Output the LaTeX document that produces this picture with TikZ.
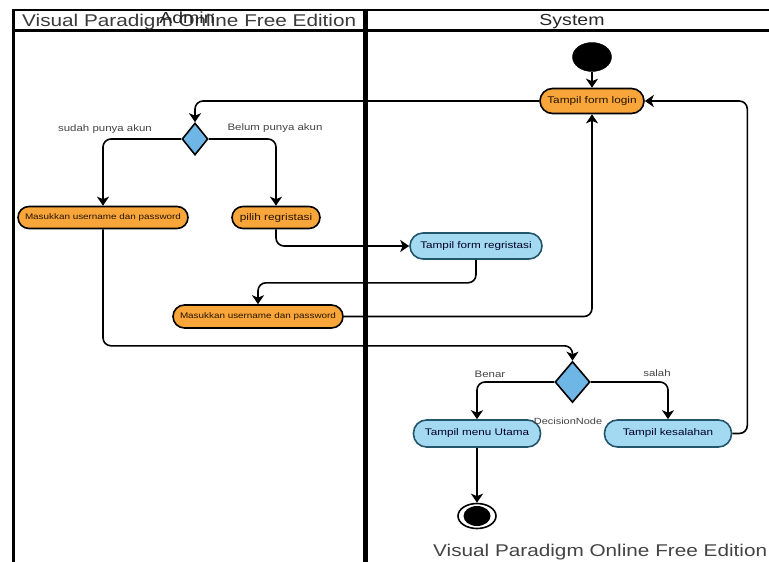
\documentclass[tikz,border=0pt]{standalone}
\usepackage{fontspec}
\setmainfont{Liberation Sans}[FakeStretch=1.22]
\usetikzlibrary{shapes.geometric,arrows.meta}
\definecolor{orangefill}{HTML}{F8A53A}
\definecolor{bluefill}{HTML}{A3DAF2}
\definecolor{blueedge}{HTML}{24566B}
\definecolor{diafill}{HTML}{6DB6E6}
\definecolor{txtgray}{HTML}{3A3A3A}
\definecolor{lblgray}{HTML}{444444}
\begin{document}
\begin{tikzpicture}[x=1pt,y=-1pt,
  orangeact/.style={draw=black, fill=orangefill, line width=1.6pt, rectangle,
     rounded corners=#1, inner sep=0pt, text=black!85!orange},
  blueact/.style={draw=blueedge, fill=bluefill, line width=1.6pt, rectangle,
     rounded corners=13pt, minimum height=27pt, inner sep=0pt, text=black!85!blue,
     font=\fontsize{9.6}{11}\selectfont},
  smalltxt/.style={font=\fontsize{8.1}{9}\selectfont},
  midtxt/.style={font=\fontsize{9.7}{11}\selectfont},
  decision/.style={draw=black, fill=diafill, line width=1.6pt, diamond, inner sep=0pt,
     minimum width=#1, minimum height=#1},
  lbl/.style={text=lblgray, font=\fontsize{9.4}{11}\selectfont, inner sep=0pt},
  conn/.style={draw=black, line width=1.6pt, rounded corners=8pt,
     -{Stealth[length=9pt,width=12pt,inset=2.5pt]}},
  frameline/.style={draw=black}
]
\useasboundingbox (0,0) rectangle (769,562);
\fill[white] (0,0) rectangle (769,562);

% swimlane frame
\draw[frameline, line width=2pt] (12,9.5) -- (769,9.5);
\draw[frameline, line width=3pt] (12,30) -- (769,30);
\draw[frameline, line width=3pt] (13,8.5) -- (13,562);
\draw[frameline, line width=5pt] (365.5,8.5) -- (365.5,562);

% headers
\node[text=txtgray, anchor=base west, inner sep=0pt, font=\fontsize{17}{20}\selectfont] (wm1) at (22,26.5) {Visual Paradigm Online Free Edition};
\node[text=black!85, anchor=base, inner sep=0pt, font=\fontsize{16}{19}\selectfont] (admin) at (187,23.5) {Admin};
\node[text=black!85, anchor=base, inner sep=0pt, font=\fontsize{16}{19}\selectfont] (system) at (572,25) {System};

% nodes
\node[draw=black, fill=black, ellipse, minimum width=39pt, minimum height=29pt, inner sep=0pt] (start) at (592,57) {};
\node[orangeact=12.5pt, minimum width=104pt, minimum height=25pt, midtxt] (login) at (592,101) {Tampil form login};
\node[decision=10pt, minimum width=26pt, minimum height=32pt] (d1) at (195,139) {};
\node[orangeact=11pt, minimum width=170pt, minimum height=22pt, smalltxt] (mas1) at (103,217.5) {Masukkan username dan password};
\node[orangeact=11pt, minimum width=88pt, minimum height=22pt, midtxt] (pilih) at (276,217.5) {pilih regristasi};
\node[blueact, minimum width=132pt, minimum height=26pt] (reg) at (476,246) {Tampil form regristasi};
\node[orangeact=11.5pt, minimum width=170pt, minimum height=23pt, smalltxt] (mas2) at (258,316.5) {Masukkan username dan password};
\node[decision=10pt, minimum width=35pt, minimum height=41pt] (d2) at (572.5,382) {};
\node[blueact, minimum width=127pt] (menu) at (477,433.5) {Tampil menu Utama};
\node[blueact, minimum width=127pt] (kes) at (668,433.5) {Tampil kesalahan};
\node[draw=black, line width=1.6pt, fill=white, ellipse, minimum width=38pt, minimum height=25pt, inner sep=0pt] (end) at (477,516) {};
\node[fill=black, ellipse, minimum width=27pt, minimum height=20pt, inner sep=0pt] (endin) at (477,516) {};

% labels
\node[lbl] (l1) at (105,129) {sudah punya akun};
\node[lbl] (l2) at (275,128) {Belum punya akun};
\node[lbl] (l3) at (490,374) {Benar};
\node[lbl] (l4) at (657,373) {salah};
\node[lbl, font=\fontsize{9}{11}\selectfont] (l5) at (568,421) {DecisionNode};

% connectors
\draw[conn] (start) -- (login);
\draw[conn] (login.west) -| (d1.north);
\draw[conn] (d1.west) -| (mas1.north);
\draw[conn] (d1.east) -| (pilih.north);
\draw[conn] (pilih.south) |- (reg.west);
\draw[conn] (reg.south) -- ++(0,23) -| (mas2.north);
\draw[conn] (mas2.east) -| (login.south);
\draw[conn] (mas1.south) -- ++(0,116.5) -| (d2.north);
\draw[conn] (d2.west) -| (menu.north);
\draw[conn] (d2.east) -| (kes.north);
\draw[conn] (kes.east) -- ++(15,0) |- (login.east);
\draw[conn] (menu.south) -- (end.north);

% footer watermark
\node[text=lblgray, anchor=base west, inner sep=0pt, font=\fontsize{17}{20}\selectfont] (wm2) at (433,556) {Visual Paradigm Online Free Edition};
\end{tikzpicture}
\end{document}
